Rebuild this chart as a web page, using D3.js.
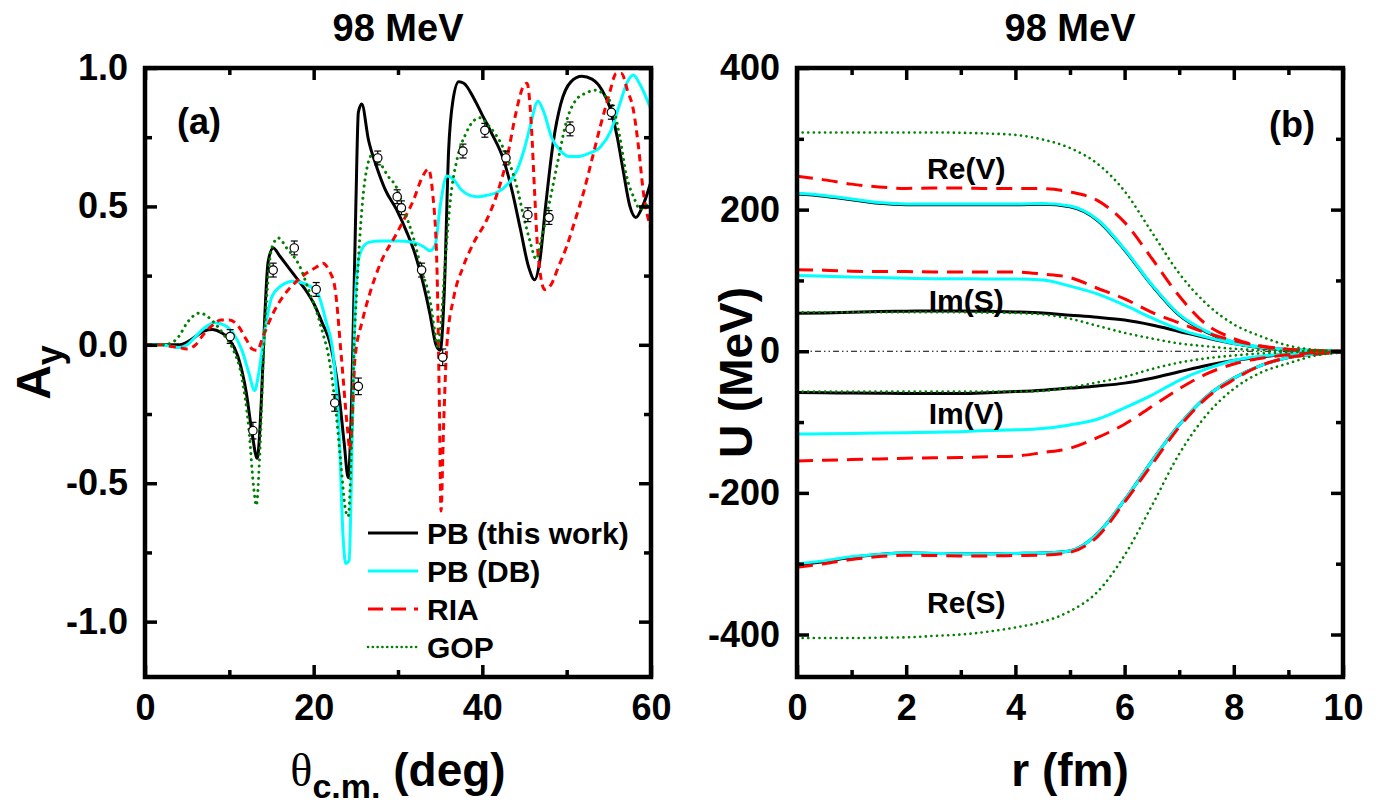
<!DOCTYPE html>
<html><head><meta charset="utf-8">
<script src="https://cdn.jsdelivr.net/npm/d3@7"></script>
<style>body{margin:0;background:#fff}svg{display:block}text{font-family:"Liberation Sans",Arial,sans-serif;font-weight:bold;fill:#000}</style>
</head><body>
<script>
// ---------- Panel (a): analyzing power A_y vs theta ----------
const thetaTicks = [0, 20, 40, 60];
const thetaTickLabels = ["0", "20", "40", "60"];
const thetaMinor = [10, 30, 50];
const ayTicks = [1.0, 0.5, 0.0, -0.5, -1.0];
const ayTickLabels = ["1.0", "0.5", "0.0", "-0.5", "-1.0"];
const ayMinor = [0.75, 0.25, -0.25, -0.75];

const pbThisWork = [[0,0],[2,0],[4,0],[5,0.01],[6,0.03],[7,0.05],[8,0.055],[9,0.045],[10,0.02],[11,-0.04],[12,-0.17],[12.7,-0.32],[13.3,-0.41],[13.8,-0.2],[14.2,0.1],[14.6,0.3],[15.2,0.35],[16,0.32],[17,0.28],[18,0.24],[19,0.2],[20,0.15],[21,0.08],[22,0.0],[23,-0.18],[23.6,-0.35],[24.1,-0.48],[24.5,-0.2],[25,0.5],[25.3,0.84],[25.7,0.87],[26.5,0.74],[27.5,0.64],[28.5,0.56],[29.8,0.49],[31,0.41],[32,0.33],[33,0.22],[33.8,0.11],[34.5,0.0],[35,-0.02],[35.5,0.2],[36,0.7],[36.5,0.88],[37.2,0.95],[37.8,0.945],[39,0.89],[40,0.83],[41,0.77],[42.5,0.67],[43.5,0.56],[44.5,0.42],[45.5,0.28],[46.2,0.235],[46.8,0.3],[47.5,0.5],[48.4,0.73],[49.3,0.87],[50.5,0.95],[51.8,0.97],[53,0.96],[54.2,0.92],[55.1,0.86],[56,0.75],[56.7,0.63],[57.5,0.5],[58.2,0.46],[59,0.5],[60,0.59]];
const pbDB = [[0,0],[2,0],[3,-0.005],[4,-0.01],[5,0.0],[6,0.03],[7,0.06],[8.3,0.08],[9.5,0.07],[10.5,0.04],[11.5,-0.02],[12.3,-0.1],[13.0,-0.165],[13.5,-0.1],[14.2,0.05],[15,0.17],[16,0.21],[17.6,0.23],[19,0.22],[20.4,0.19],[21.5,0.08],[22.3,-0.03],[23,-0.3],[23.5,-0.7],[23.8,-0.79],[24.2,-0.78],[24.6,-0.3],[25,0.2],[25.5,0.33],[26.5,0.37],[28,0.375],[30,0.375],[31.8,0.37],[33,0.355],[33.8,0.34],[34.4,0.36],[35,0.5],[35.8,0.61],[36.5,0.6],[37.5,0.56],[38.5,0.54],[39.5,0.535],[40.5,0.54],[41.7,0.55],[43,0.58],[44.1,0.63],[45,0.71],[45.6,0.78],[46.6,0.88],[47.3,0.84],[48.2,0.75],[49.3,0.7],[50.3,0.68],[51.2,0.68],[52.5,0.69],[54,0.715],[55.2,0.77],[56.3,0.87],[57.2,0.95],[57.9,0.975],[58.7,0.94],[60,0.85]];
const ria = [[0,0],[2,0],[3,-0.005],[4,-0.01],[5,-0.015],[6,0.0],[7,0.04],[8,0.07],[9,0.09],[10,0.09],[11,0.07],[12,0.02],[12.7,-0.015],[13.3,-0.02],[14,0.03],[15.2,0.115],[16.5,0.18],[18,0.23],[19.2,0.26],[20.3,0.28],[21.1,0.295],[21.8,0.27],[22.5,0.21],[23.3,-0.05],[24.0,-0.3],[24.3,-0.38],[24.6,-0.25],[24.9,-0.05],[25.8,0.09],[26.7,0.19],[28,0.3],[29.8,0.4],[31,0.47],[31.8,0.52],[32.8,0.6],[33.6,0.635],[34.1,0.55],[34.6,0.3],[34.9,-0.2],[35.1,-0.6],[35.4,-0.3],[35.8,0.0],[36.6,0.17],[37.7,0.28],[39,0.37],[40.5,0.45],[41.8,0.55],[42.9,0.67],[44,0.84],[44.8,0.93],[45.3,0.945],[45.8,0.8],[46.2,0.55],[46.6,0.33],[47.4,0.2],[48.2,0.22],[49,0.28],[50,0.355],[51,0.45],[52,0.55],[53,0.67],[54,0.79],[55,0.9],[55.9,0.98],[56.5,0.98],[57.2,0.92],[57.9,0.85],[58.5,0.72],[59.1,0.55],[60,0.42]];
const gop = [[0,0],[2,0],[3,0.005],[4,0.03],[5,0.08],[6,0.11],[6.5,0.115],[7.5,0.1],[8.5,0.07],[9.5,0.03],[10.5,-0.02],[11.5,-0.12],[12.3,-0.3],[12.9,-0.52],[13.2,-0.58],[13.6,-0.4],[14.1,0.0],[14.5,0.2],[14.8,0.31],[15.3,0.37],[15.8,0.386],[16.8,0.35],[18.4,0.28],[19.5,0.19],[20.4,0.115],[21.1,0.04],[21.7,-0.03],[22.5,-0.2],[23.2,-0.42],[23.8,-0.6],[24.1,-0.62],[24.5,-0.35],[24.8,0.0],[25.1,0.19],[25.5,0.4],[25.9,0.55],[26.4,0.65],[26.9,0.685],[27.8,0.66],[28.8,0.61],[29.8,0.57],[30.8,0.48],[31.8,0.39],[32.8,0.27],[33.8,0.16],[34.3,0.06],[34.7,-0.005],[35.1,0.08],[35.6,0.3],[36.2,0.52],[37,0.67],[38,0.76],[39,0.81],[39.7,0.82],[40.8,0.79],[42.5,0.71],[43.3,0.65],[44.1,0.57],[45,0.45],[45.6,0.38],[46.4,0.31],[47,0.38],[48,0.52],[49,0.67],[50,0.81],[51,0.88],[52.3,0.91],[53.6,0.92],[54.5,0.9],[55.5,0.86],[56.3,0.75],[57.1,0.61],[58,0.53],[58.7,0.49],[59.3,0.5],[60,0.52]];
const expTheta = [10.1, 12.8, 15.2, 17.7, 20.3, 22.5, 25.3, 27.6, 29.9, 30.4, 32.8, 35.3, 37.7, 40.3, 42.8, 45.4, 47.9, 50.4, 55.3];
const expAy    = [0.03, -0.31, 0.27, 0.35, 0.20, -0.21, -0.15, 0.675, 0.535, 0.495, 0.27, -0.045, 0.70, 0.775, 0.675, 0.47, 0.46, 0.78, 0.84];
const expErr   = [0.025, 0.03, 0.025, 0.025, 0.025, 0.03, 0.03, 0.025, 0.025, 0.025, 0.025, 0.03, 0.025, 0.025, 0.025, 0.025, 0.025, 0.025, 0.025];
const legendLabels = ["PB (this work)", "PB (DB)", "RIA", "GOP"];

// ---------- Panel (b): potentials U vs r ----------
const rTicks = [0, 2, 4, 6, 8, 10];
const rTickLabels = ["0", "2", "4", "6", "8", "10"];
const rMinor = [1, 3, 5, 7, 9];
const uTicks = [400, 200, 0, -200, -400];
const uTickLabels = ["400", "200", "0", "-200", "-400"];
const uMinor = [300, 100, -100, -300];
const rGrid = [0, 0.5, 1, 1.5, 2, 2.5, 3, 3.5, 4, 4.5, 5, 5.5, 6, 6.5, 7, 7.5, 8, 8.5, 9, 9.5, 10];
// Re(V)
const reV_PB  = [222,219,214,209,207,207,207,207,207,207.5,204,185,143,93,51,27,12,5,1.5,0.5,0];
const reV_DB  = [223,220,215,210,208,208,208,208,208,208.5,205,186,144,94,52,28,13,6,2,0.5,0];
const reV_RIA = [247,242,236,232,230,230.5,230.5,230,230,229.5,225,213,182,131,78,37.5,18,7,2,0.5,0];
const reV_GOP = [309,309,309,309,309,309,308.5,307.5,305.5,299,287,265,226,168,110,67,38,21,8,2,0.5];
// Im(S)
const imS_PB  = [53.5,54,55,56,56.5,57,57,56.5,55.5,54,51,48,44,37,28,19,11,5.5,2.5,1,0];
const imS_DB  = [107,106,105,104,103,102.5,102.5,102,102,100.5,92,81,65,47,31,20,11,5.5,2.5,1,0];
const imS_RIA = [115,114.5,113,112.5,112.5,112,112,112,112,109,104,89,74,55,40,26,15,7.5,3,1,0];
const imS_GOP = [55,55,55,55,55,55,55,54.5,54,52,46,36,26,18,11,7,3.5,1.5,0.5,0.2,0];
// Im(V)
const imV_PB  = [-58.3,-58.6,-59,-59.3,-59.5,-59.5,-59.5,-58.5,-57,-55,-52,-49,-45,-38,-29,-20,-13,-8,-4,-1.5,0];
const imV_DB  = [-117,-116.5,-116,-115.5,-115,-114.5,-113.5,-112,-111,-109,-104,-96,-80,-62,-41,-25,-13,-7,-3.5,-1,0];
const imV_RIA = [-155,-154,-153,-152,-151,-150.5,-150,-149,-148,-143,-137,-122,-103,-78,-53,-32,-18,-10,-5,-2,0];
const imV_GOP = [-57,-57,-57,-57,-57,-57,-57,-57,-57,-56,-51,-44,-36,-25,-16,-10,-6,-3,-1.5,-0.5,0];
// Re(S)
const reS_PB  = [-302,-297,-291,-287,-285,-285.5,-286,-286,-285.5,-285,-282,-258,-210,-155,-104,-64,-38,-20,-9,-4,-1];
const reS_DB  = [-300,-296,-290,-287,-285,-285.5,-286,-286,-285.5,-285,-282,-258,-210,-155,-104,-64,-38,-20,-9,-4,-1];
const reS_RIA = [-305,-300,-294,-290,-288,-288.5,-289,-289,-288.5,-288,-284,-262,-213,-160,-107,-66,-40,-20,-9,-4,-1];
const reS_GOP = [-405,-405,-405,-404.5,-404,-402,-400,-396,-390,-382,-367,-340,-288,-218,-145,-90,-53,-30,-17,-6,-2];
const potLabels = ["Re(V)", "Im(S)", "Im(V)", "Re(S)"];
const potLabelValues = [258, 72, -88, -355];

// ---------- drawing ----------
const W = 1392, H = 809;
const svg = d3.select("body").append("svg").attr("width", W).attr("height", H);

const xA = d3.scaleLinear().domain([0, 60]).range([145, 651]);
const yA = d3.scaleLinear().domain([-1.2, 1.0]).range([677, 68]);
const xB = d3.scaleLinear().domain([0, 10]).range([797, 1343]);
const yB = d3.scaleLinear().domain([-460, 400]).range([677, 68]);

const TICK_FONT = 36;

function frameAndAxes(x, y, xt, xtl, xm, yt, ytl, ym) {
  const [x0, x1] = x.range(), [y1, y0] = y.range();
  const g = svg.append("g");
  const maj = 12, mnr = 7;
  const mk = (axis, tx, ty) => {
    const a = g.append("g").attr("transform", `translate(${tx},${ty})`).call(axis);
    a.select(".domain").remove();
    a.selectAll(".tick line").attr("stroke", "#000").attr("stroke-width", 3.5);
    a.selectAll("text").remove();
  };
  mk(d3.axisBottom(x).tickValues(xt).tickSize(-maj), 0, y1);
  mk(d3.axisBottom(x).tickValues(xm).tickSize(-mnr), 0, y1);
  mk(d3.axisTop(x).tickValues(xt).tickSize(-maj), 0, y0);
  mk(d3.axisTop(x).tickValues(xm).tickSize(-mnr), 0, y0);
  mk(d3.axisLeft(y).tickValues(yt).tickSize(-maj), x0, 0);
  mk(d3.axisLeft(y).tickValues(ym).tickSize(-mnr), x0, 0);
  mk(d3.axisRight(y).tickValues(yt).tickSize(-maj), x1, 0);
  mk(d3.axisRight(y).tickValues(ym).tickSize(-mnr), x1, 0);
  const lb = g.append("g").attr("transform", `translate(0,${y1})`)
    .call(d3.axisBottom(x).tickValues(xt).tickSize(0).tickPadding(17).tickFormat((d, i) => xtl[i]));
  lb.select(".domain").remove();
  lb.selectAll("text").attr("font-size", TICK_FONT).attr("font-family", '"Liberation Sans",Arial,sans-serif').attr("font-weight", "bold");
  const ll = g.append("g").attr("transform", `translate(${x0},0)`)
    .call(d3.axisLeft(y).tickValues(yt).tickSize(0).tickPadding(17).tickFormat((d, i) => ytl[i]));
  ll.select(".domain").remove();
  ll.selectAll("text").attr("font-size", TICK_FONT).attr("font-family", '"Liberation Sans",Arial,sans-serif').attr("font-weight", "bold");
  g.append("rect").attr("x", x0).attr("y", y0).attr("width", x1 - x0).attr("height", y1 - y0)
    .attr("fill", "none").attr("stroke", "#000").attr("stroke-width", 4.5);
}

const defs = svg.append("defs");
defs.append("clipPath").attr("id", "clipA").append("rect")
  .attr("x", xA(0)).attr("y", yA(1.0)).attr("width", xA(60) - xA(0)).attr("height", yA(-1.2) - yA(1.0));
defs.append("clipPath").attr("id", "clipB").append("rect")
  .attr("x", xB(0)).attr("y", yB(400)).attr("width", xB(10) - xB(0)).attr("height", yB(-460) - yB(400));

const styles = {
  pb:  { stroke: "#000000", width: 3, dash: null, cap: "butt" },
  db:  { stroke: "#00FFFF", width: 3, dash: null, cap: "butt" },
  ria: { stroke: "#FF0000", width: 3, dash: "7,5", cap: "butt" },
  gop: { stroke: "#008000", width: 3, dash: "0.1,6", cap: "round" }
};

// ---- panel (a) curves
const gA = svg.append("g").attr("clip-path", "url(#clipA)");
const lineA = d3.line().x(d => xA(d[0])).y(d => yA(d[1])).curve(d3.curveMonotoneX);
[[pbThisWork, styles.pb], [pbDB, styles.db], [ria, styles.ria], [gop, styles.gop]].forEach(([data, s]) => {
  gA.append("path").attr("d", lineA(data)).attr("fill", "none").attr("stroke", s.stroke)
    .attr("stroke-width", s.width).attr("stroke-dasharray", s.dash).attr("stroke-linecap", s.cap)
    .attr("stroke-linejoin", "round");
});
const pts = gA.append("g");
expTheta.forEach((t, i) => {
  const cx = xA(t), cy = yA(expAy[i]), ey0 = yA(expAy[i] - expErr[i]), ey1 = yA(expAy[i] + expErr[i]);
  pts.append("line").attr("x1", cx).attr("x2", cx).attr("y1", ey0).attr("y2", ey1).attr("stroke", "#000").attr("stroke-width", 1.2);
  pts.append("line").attr("x1", cx - 3.5).attr("x2", cx + 3.5).attr("y1", ey0).attr("y2", ey0).attr("stroke", "#000").attr("stroke-width", 1.2);
  pts.append("line").attr("x1", cx - 3.5).attr("x2", cx + 3.5).attr("y1", ey1).attr("y2", ey1).attr("stroke", "#000").attr("stroke-width", 1.2);
  pts.append("circle").attr("cx", cx).attr("cy", cy).attr("r", 4.2).attr("fill", "#fff").attr("stroke", "#000").attr("stroke-width", 1.2);
});

frameAndAxes(xA, yA, thetaTicks, thetaTickLabels, thetaMinor, ayTicks, ayTickLabels, ayMinor);

// legend
const legStyles = [styles.pb, styles.db, { stroke: "#FF0000", width: 3, dash: "15,8", cap: "butt" }, { stroke: "#008000", width: 2.6, dash: "0.1,4.7", cap: "round" }];
const legY = [533, 571, 609, 647];
legendLabels.forEach((lab, i) => {
  svg.append("line").attr("x1", 368).attr("x2", 418).attr("y1", legY[i]).attr("y2", legY[i])
    .attr("stroke", legStyles[i].stroke).attr("stroke-width", legStyles[i].width)
    .attr("stroke-dasharray", legStyles[i].dash).attr("stroke-linecap", legStyles[i].cap);
  svg.append("text").attr("x", 427).attr("y", legY[i]).attr("dy", "0.35em").attr("font-size", 30).text(lab);
});

svg.append("text").attr("x", 177).attr("y", 134).attr("font-size", 36).text("(a)");

// ---- panel (b) curves
const gB = svg.append("g").attr("clip-path", "url(#clipB)");
gB.append("line").attr("x1", xB(0)).attr("x2", xB(10)).attr("y1", yB(0)).attr("y2", yB(0))
  .attr("stroke", "#000").attr("stroke-width", 1).attr("stroke-dasharray", "6,3,1.5,3,1.5,3");
const lineB = d3.line().x((d, i) => xB(rGrid[i])).y(d => yB(d)).curve(d3.curveMonotoneX);
const stylesB = {
  pb:  { stroke: "#000000", width: 3, dash: null, cap: "butt" },
  db:  { stroke: "#00FFFF", width: 3, dash: null, cap: "butt" },
  ria: { stroke: "#FF0000", width: 3, dash: "16,9", cap: "butt" },
  gop: { stroke: "#008000", width: 2.6, dash: "0.1,5.5", cap: "round" }
};
const seriesB = [
  [reV_PB, "pb"], [imS_PB, "pb"], [imV_PB, "pb"], [reS_PB, "pb"],
  [reV_DB, "db"], [imS_DB, "db"], [imV_DB, "db"], [reS_DB, "db"],
  [reV_RIA, "ria"], [imS_RIA, "ria"], [imV_RIA, "ria"], [reS_RIA, "ria"],
  [reV_GOP, "gop"], [imS_GOP, "gop"], [imV_GOP, "gop"], [reS_GOP, "gop"]
];
seriesB.forEach(([data, k]) => {
  const s = stylesB[k];
  gB.append("path").attr("d", lineB(data)).attr("fill", "none").attr("stroke", s.stroke)
    .attr("stroke-width", s.width).attr("stroke-dasharray", s.dash).attr("stroke-linecap", s.cap)
    .attr("stroke-linejoin", "round");
});
potLabels.forEach((lab, i) => {
  svg.append("text").attr("x", xB(3.1)).attr("y", yB(potLabelValues[i])).attr("dy", "0.35em")
    .attr("text-anchor", "middle").attr("font-size", 30).text(lab);
});
svg.append("text").attr("x", 1269).attr("y", 137).attr("font-size", 36).text("(b)");

frameAndAxes(xB, yB, rTicks, rTickLabels, rMinor, uTicks, uTickLabels, uMinor);

// ---- titles and axis labels
svg.append("text").attr("x", (xA(0) + xA(60)) / 2).attr("y", 41).attr("text-anchor", "middle").attr("font-size", 38).text("98 MeV");
svg.append("text").attr("x", (xB(0) + xB(10)) / 2).attr("y", 41).attr("text-anchor", "middle").attr("font-size", 38).text("98 MeV");

const xl = svg.append("text").attr("x", (xA(0) + xA(60)) / 2).attr("y", 786).attr("text-anchor", "middle").attr("font-size", 46);
xl.append("tspan").attr("font-family", '"Liberation Serif","DejaVu Serif",serif').attr("font-weight", "normal").text("θ");
xl.append("tspan").attr("font-size", 34).attr("dy", 12).text("c.m.");
xl.append("tspan").attr("dy", -12).text(" (deg)");

svg.append("text").attr("x", (xB(0) + xB(10)) / 2).attr("y", 786).attr("text-anchor", "middle").attr("font-size", 46).text("r (fm)");

const ylA = svg.append("text").attr("transform", `translate(50,${yA(-0.1)}) rotate(-90)`).attr("text-anchor", "middle").attr("font-size", 48);
ylA.append("tspan").text("A");
ylA.append("tspan").attr("font-size", 36).attr("dy", 12).text("y");

svg.append("text").attr("transform", `translate(752,${yB(-30)}) rotate(-90)`).attr("text-anchor", "middle").attr("font-size", 46).text("U (MeV)");
</script>
</body></html>
